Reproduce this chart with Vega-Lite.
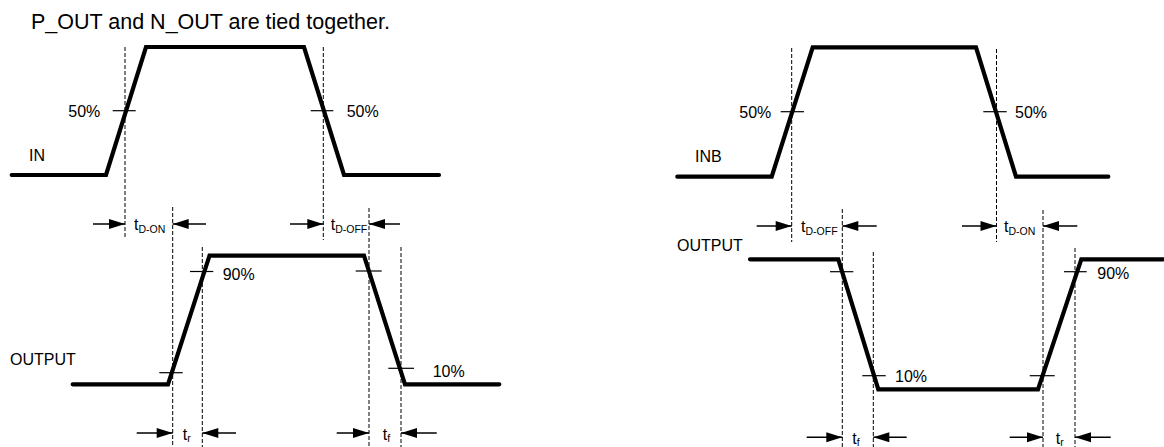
{
  "$schema": "https://vega.github.io/schema/vega-lite/v6.json",
  "width": 1164,
  "height": 447,
  "padding": 0,
  "autosize": {"type": "none"},
  "background": "white",
  "config": {"view": {"stroke": null}, "font": "Liberation Sans"},
  "datasets": {
    "waves": [
      {"s": "IN", "i": 0, "t": 11.7, "v": 175},
      {"s": "IN", "i": 1, "t": 106, "v": 175},
      {"s": "IN", "i": 2, "t": 146, "v": 47},
      {"s": "IN", "i": 3, "t": 304, "v": 47},
      {"s": "IN", "i": 4, "t": 344, "v": 175},
      {"s": "IN", "i": 5, "t": 439, "v": 175},
      {"s": "OUT1", "i": 0, "t": 72.7, "v": 384.3},
      {"s": "OUT1", "i": 1, "t": 168, "v": 384.3},
      {"s": "OUT1", "i": 2, "t": 209.5, "v": 255.7},
      {"s": "OUT1", "i": 3, "t": 364, "v": 255.7},
      {"s": "OUT1", "i": 4, "t": 405, "v": 384.3},
      {"s": "OUT1", "i": 5, "t": 499.3, "v": 384.3},
      {"s": "INB", "i": 0, "t": 677.3, "v": 176.7},
      {"s": "INB", "i": 1, "t": 771.7, "v": 176.7},
      {"s": "INB", "i": 2, "t": 812.7, "v": 47.3},
      {"s": "INB", "i": 3, "t": 976, "v": 47.3},
      {"s": "INB", "i": 4, "t": 1016, "v": 176.7},
      {"s": "INB", "i": 5, "t": 1108.3, "v": 176.7},
      {"s": "OUT2", "i": 0, "t": 750, "v": 259.3},
      {"s": "OUT2", "i": 1, "t": 838.3, "v": 259.3},
      {"s": "OUT2", "i": 2, "t": 878.3, "v": 389.3},
      {"s": "OUT2", "i": 3, "t": 1038, "v": 389.3},
      {"s": "OUT2", "i": 4, "t": 1081.3, "v": 259.3},
      {"s": "OUT2", "i": 5, "t": 1163, "v": 259.3}
    ],
    "marks": [
      {"t": 125, "v1": 47, "v2": 239},
      {"t": 323.3, "v1": 47, "v2": 240},
      {"t": 172.7, "v1": 207, "v2": 447},
      {"t": 202.3, "v1": 247, "v2": 447},
      {"t": 369, "v1": 208, "v2": 447},
      {"t": 401, "v1": 247, "v2": 447},
      {"t": 791.7, "v1": 48, "v2": 242},
      {"t": 996.5, "v1": 49, "v2": 242},
      {"t": 842.3, "v1": 209, "v2": 447},
      {"t": 873.3, "v1": 252, "v2": 447},
      {"t": 1043, "v1": 210, "v2": 447},
      {"t": 1075, "v1": 248, "v2": 447}
    ],
    "levels": [
      {"t1": 112.7, "t2": 135.7, "v": 110.7},
      {"t1": 310.7, "t2": 333.3, "v": 110.7},
      {"t1": 159.3, "t2": 182.7, "v": 372.7},
      {"t1": 190, "t2": 213.3, "v": 271.5},
      {"t1": 355.7, "t2": 381.7, "v": 271},
      {"t1": 388.3, "t2": 414, "v": 368.3},
      {"t1": 780.7, "t2": 804, "v": 111.7},
      {"t1": 983.3, "t2": 1006.7, "v": 111.7},
      {"t1": 830, "t2": 853.3, "v": 271.7},
      {"t1": 862.3, "t2": 885.7, "v": 375.7},
      {"t1": 1029.7, "t2": 1054.7, "v": 375.7},
      {"t1": 1064, "t2": 1086.7, "v": 271.7}
    ],
    "arrows": [
      {"tail": 93, "tip": 125, "v": 224, "dir": "right"},
      {"tail": 206, "tip": 172.7, "v": 224, "dir": "left"},
      {"tail": 290, "tip": 323.3, "v": 224, "dir": "right"},
      {"tail": 400, "tip": 369, "v": 224, "dir": "left"},
      {"tail": 136.7, "tip": 172.7, "v": 433, "dir": "right"},
      {"tail": 236, "tip": 202.3, "v": 433, "dir": "left"},
      {"tail": 336.7, "tip": 369, "v": 433, "dir": "right"},
      {"tail": 436.7, "tip": 401, "v": 433, "dir": "left"},
      {"tail": 756.7, "tip": 791.7, "v": 226, "dir": "right"},
      {"tail": 876.7, "tip": 842.3, "v": 226, "dir": "left"},
      {"tail": 962, "tip": 996.5, "v": 226, "dir": "right"},
      {"tail": 1077.3, "tip": 1043, "v": 226, "dir": "left"},
      {"tail": 806.7, "tip": 842.3, "v": 437.3, "dir": "right"},
      {"tail": 906.7, "tip": 873.3, "v": 437.3, "dir": "left"},
      {"tail": 1009.7, "tip": 1043, "v": 437.3, "dir": "right"},
      {"tail": 1110.7, "tip": 1075, "v": 437.3, "dir": "left"}
    ],
    "texts": [
      {"kind": "title", "t": 31, "v": 28.5, "text": "P_OUT and N_OUT are tied together."},
      {"kind": "label", "t": 29, "v": 160.5, "text": "IN"},
      {"kind": "label", "t": 68.3, "v": 116.7, "text": "50%"},
      {"kind": "label", "t": 346.7, "v": 116.7, "text": "50%"},
      {"kind": "label", "t": 10, "v": 365, "text": "OUTPUT"},
      {"kind": "label", "t": 222.7, "v": 279.5, "text": "90%"},
      {"kind": "label", "t": 432.7, "v": 377.3, "text": "10%"},
      {"kind": "label", "t": 695, "v": 161.7, "text": "INB"},
      {"kind": "label", "t": 739.3, "v": 118, "text": "50%"},
      {"kind": "label", "t": 1015, "v": 118, "text": "50%"},
      {"kind": "label", "t": 677, "v": 250.7, "text": "OUTPUT"},
      {"kind": "label", "t": 895, "v": 382.3, "text": "10%"},
      {"kind": "label", "t": 1097.3, "v": 279.3, "text": "90%"},
      {"kind": "t", "t": 134, "v": 230, "text": "t"},
      {"kind": "sub", "t": 138.5, "v": 232.5, "text": "D-ON"},
      {"kind": "t", "t": 330.7, "v": 230, "text": "t"},
      {"kind": "sub", "t": 335.2, "v": 232.5, "text": "D-OFF"},
      {"kind": "t", "t": 182.7, "v": 439.5, "text": "t"},
      {"kind": "sub", "t": 187.2, "v": 442, "text": "r"},
      {"kind": "t", "t": 382.7, "v": 439.5, "text": "t"},
      {"kind": "sub", "t": 387.2, "v": 442, "text": "f"},
      {"kind": "t", "t": 801, "v": 232, "text": "t"},
      {"kind": "sub", "t": 805.5, "v": 234.5, "text": "D-OFF"},
      {"kind": "t", "t": 1004, "v": 232, "text": "t"},
      {"kind": "sub", "t": 1008.5, "v": 234.5, "text": "D-ON"},
      {"kind": "t", "t": 852.3, "v": 443.5, "text": "t"},
      {"kind": "sub", "t": 856.8, "v": 446, "text": "f"},
      {"kind": "t", "t": 1055.7, "v": 443.5, "text": "t"},
      {"kind": "sub", "t": 1060.2, "v": 446, "text": "r"}
    ]
  },
  "encoding": {
    "x": {"type": "quantitative", "scale": {"domain": [0, 1164], "nice": false, "zero": false}, "axis": null},
    "y": {"type": "quantitative", "scale": {"domain": [0, 447], "nice": false, "zero": false, "reverse": true}, "axis": null}
  },
  "layer": [
    {
      "data": {"name": "marks"},
      "mark": {"type": "rule", "color": "black", "strokeWidth": 1, "strokeDash": [4, 2]},
      "encoding": {"x": {"field": "t"}, "y": {"field": "v1"}, "y2": {"field": "v2"}}
    },
    {
      "data": {"name": "levels"},
      "mark": {"type": "rule", "color": "black", "strokeWidth": 1.2},
      "encoding": {"x": {"field": "t1"}, "x2": {"field": "t2"}, "y": {"field": "v"}}
    },
    {
      "data": {"name": "waves"},
      "mark": {"type": "line", "color": "black", "strokeWidth": 4.2, "strokeJoin": "miter", "strokeCap": "round"},
      "encoding": {"x": {"field": "t"}, "y": {"field": "v"}, "detail": {"field": "s", "type": "nominal"}, "order": {"field": "i", "type": "quantitative"}}
    },
    {
      "data": {"name": "arrows"},
      "mark": {"type": "rule", "color": "black", "strokeWidth": 1.5},
      "encoding": {"x": {"field": "tail"}, "x2": {"field": "tip"}, "y": {"field": "v"}}
    },
    {
      "data": {"name": "arrows"},
      "transform": [{"filter": "datum.dir === 'right'"}],
      "mark": {"type": "point", "shape": "M0,0L-1,-0.31L-1,0.31Z", "filled": true, "color": "black", "opacity": 1, "size": 1024, "strokeWidth": 0},
      "encoding": {"x": {"field": "tip"}, "y": {"field": "v"}}
    },
    {
      "data": {"name": "arrows"},
      "transform": [{"filter": "datum.dir === 'left'"}],
      "mark": {"type": "point", "shape": "M0,0L1,-0.31L1,0.31Z", "filled": true, "color": "black", "opacity": 1, "size": 1024, "strokeWidth": 0},
      "encoding": {"x": {"field": "tip"}, "y": {"field": "v"}}
    },
    {
      "data": {"name": "texts"},
      "transform": [{"filter": "datum.kind === 'title'"}],
      "mark": {"type": "text", "align": "left", "baseline": "alphabetic", "fontSize": 21.5, "color": "black", "font": "Liberation Sans"},
      "encoding": {"x": {"field": "t"}, "y": {"field": "v"}, "text": {"field": "text"}}
    },
    {
      "data": {"name": "texts"},
      "transform": [{"filter": "datum.kind === 'label' || datum.kind === 't'"}],
      "mark": {"type": "text", "align": "left", "baseline": "alphabetic", "fontSize": 16, "color": "black", "font": "Liberation Sans"},
      "encoding": {"x": {"field": "t"}, "y": {"field": "v"}, "text": {"field": "text"}}
    },
    {
      "data": {"name": "texts"},
      "transform": [{"filter": "datum.kind === 'sub'"}],
      "mark": {"type": "text", "align": "left", "baseline": "alphabetic", "fontSize": 10.5, "color": "black", "font": "Liberation Sans"},
      "encoding": {"x": {"field": "t"}, "y": {"field": "v"}, "text": {"field": "text"}}
    }
  ]
}
